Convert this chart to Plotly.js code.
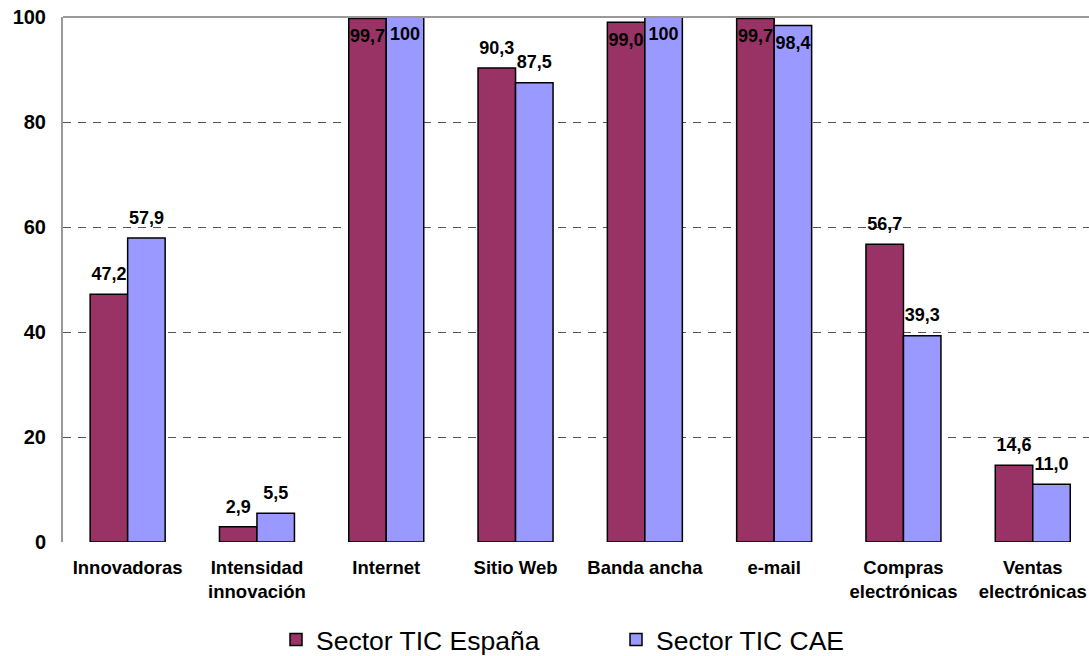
<!DOCTYPE html>
<html>
<head>
<meta charset="utf-8">
<script src="https://cdn.plot.ly/plotly-3.0.1.min.js"></script>
<style>html,body{margin:0;padding:0;background:#fff;}#chart{width:1089px;height:656px;}</style>
</head>
<body>
<div id="chart"></div>
<script>
var categories = ["Innovadoras", "Intensidad<br>innovación", "Internet", "Sitio Web", "Banda ancha", "e-mail", "Compras<br>electrónicas", "Ventas<br>electrónicas"];
var espana = [47.2, 2.9, 99.7, 90.3, 99.0, 99.7, 56.7, 14.6];
var cae = [57.9, 5.5, 100, 87.5, 100, 98.4, 39.3, 11.0];
var espanaLabels = ["47,2", "2,9", "99,7", "90,3", "99,0", "99,7", "56,7", "14,6"];
var caeLabels = ["57,9", "5,5", "100", "87,5", "100", "98,4", "39,3", "11,0"];
var yTicks = [0, 20, 40, 60, 80, 100];

function labelPos(vals) {
  return vals.map(function (v) { return v >= 98 ? "bottom center" : "top center"; });
}

var FONT = "Liberation Sans, Arial, sans-serif";
var labelFont = {family: FONT, size: 18, color: "#000", weight: "bold"};

var traces = [
  {type: "bar", name: "Sector TIC España", x: categories, y: espana,
   marker: {color: "#993366", line: {color: "#000", width: 1.5}}, hoverinfo: "skip"},
  {type: "bar", name: "Sector TIC CAE", x: categories, y: cae,
   marker: {color: "#9999FF", line: {color: "#000", width: 1.5}}, hoverinfo: "skip"},
  {type: "scatter", mode: "markers+text", x: categories, y: espana, text: espanaLabels,
   textposition: labelPos(espana), textfont: labelFont, cliponaxis: false,
   marker: {size: 14, opacity: 0}, showlegend: false, hoverinfo: "skip"},
  {type: "scatter", mode: "markers+text", x: categories, y: cae, text: caeLabels,
   textposition: labelPos(cae), textfont: labelFont, cliponaxis: false,
   marker: {size: 14, opacity: 0}, showlegend: false, hoverinfo: "skip"}
];

var layout = {
  width: 1089, height: 656,
  margin: {l: 63, r: 0, t: 17, b: 114, autoexpand: false},
  paper_bgcolor: "#fff", plot_bgcolor: "#fff",
  barmode: "group", bargap: 0.42, bargroupgap: 0,
  scattermode: "group", scattergap: 0.42,
  font: {family: FONT, color: "#000"},
  xaxis: {
    type: "category", range: [-0.5, 7.435], fixedrange: true, automargin: false,
    showgrid: false, zeroline: false, showline: false,
    ticks: "", ticklabelstandoff: 12,
    tickfont: {family: FONT, size: 18.5, color: "#000", weight: "bold"}
  },
  yaxis: {
    range: [0, 100], tickvals: yTicks, fixedrange: true, automargin: false,
    showgrid: true, gridcolor: "#555", griddash: "8px,7px", gridwidth: 1,
    zeroline: false, showline: true, linecolor: "#999", linewidth: 2,
    ticks: "", ticklabelstandoff: 11,
    tickfont: {family: FONT, size: 20, color: "#000", weight: "bold"}
  },
  shapes: [
    {type: "line", xref: "paper", yref: "paper", x0: 0, x1: 1, y0: 1, y1: 1,
     line: {color: "#999", width: 2}, layer: "above"}
  ],
  legend: {
    orientation: "h", x: 0.539, xanchor: "center", y: -0.186, yanchor: "middle",
    font: {family: FONT, size: 26.5, color: "#000"},
    entrywidth: 295, entrywidthmode: "pixels", itemclick: false
  },
  showlegend: true
};

Plotly.newPlot("chart", traces, layout, {displayModeBar: false, staticPlot: true});
</script>
</body>
</html>
